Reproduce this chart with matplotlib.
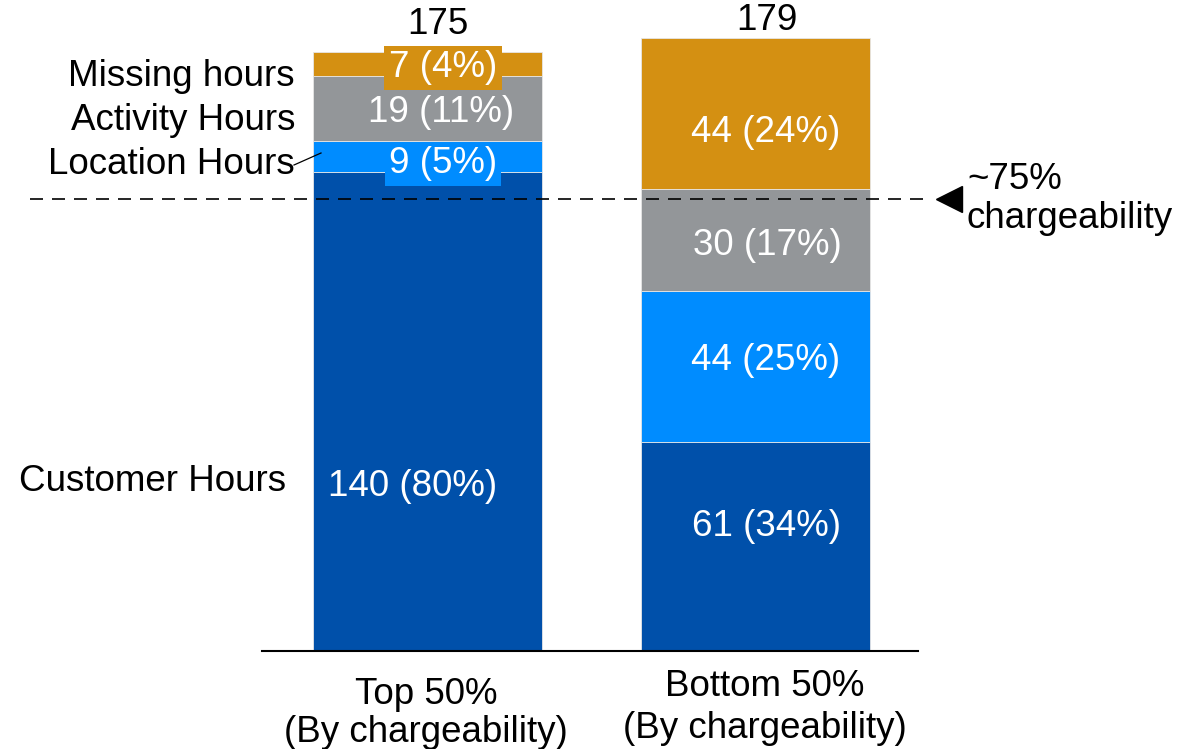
import matplotlib
matplotlib.use('Agg')
import matplotlib.pyplot as plt
import numpy as np

plt.rcParams['font.family'] = ['Liberation Sans', 'DejaVu Sans']

# ---------------- data ----------------
categories_line1 = ['Top 50%', 'Bottom 50%']
categories_line2 = ['(By chargeability)', '(By chargeability)']
series_names = ['Customer Hours', 'Location Hours', 'Activity Hours', 'Missing hours']
customer = [140, 61]
location = [9, 44]
activity = [19, 30]
missing = [7, 44]
customer_pct = [80, 34]
location_pct = [5, 25]
activity_pct = [11, 17]
missing_pct = [4, 24]
totals = [175, 179]
chargeability_level = 132
chargeability_text = ['~75%', 'chargeability']

colors = ['#0050AA', '#008CFF', '#939699', '#D49012']

# ---------------- layout ----------------
W, H = 1181, 749
fig = plt.figure(figsize=(W / 100, H / 100), dpi=100)
ax = fig.add_axes([0, 0, 1, 1])

PXU_X, CX0 = 327.5, 427.5
PXU_Y, BASE = 3.424, 651
TSHIFT = 3  # text vertical nudge in px


def dx(px):
    return (px - CX0) / PXU_X


def dy(py):
    return (BASE - py) / PXU_Y


def ty(py):
    return dy(py + TSHIFT)


ax.set_xlim(dx(0), dx(W))
ax.set_ylim(dy(H), dy(0))
ax.axis('off')

x = np.arange(2)
width = 229 / PXU_X
FS = 26.5

series = [customer, location, activity, missing]
pcts = [customer_pct, location_pct, activity_pct, missing_pct]
bottom = np.zeros(2)
for vals, col in zip(series, colors):
    ax.bar(x, vals, width, bottom=bottom, color=col, edgecolor='#e6e6e6',
           linewidth=0.6, zorder=2)
    bottom = bottom + np.array(vals)

# segment labels: (series index, bar index, px_x, px_y, boxed)
label_pos = [
    (0, 0, 413, 483, False),
    (1, 0, 443, 161, True),
    (2, 0, 441, 110, False),
    (3, 0, 443, 65, True),
    (0, 1, 766, 523, False),
    (1, 1, 766, 358, False),
    (2, 1, 767, 243, False),
    (3, 1, 766, 130, False),
]
for si, bi, px, py, boxed in label_pos:
    txt = f"{series[si][bi]} ({pcts[si][bi]}%)"
    kw = {}
    if boxed:
        kw['bbox'] = dict(boxstyle='square,pad=0.12', facecolor=colors[si],
                          edgecolor='none')
    ax.text(dx(px), ty(py), txt, ha='center', va='center', color='white',
            fontsize=FS, zorder=4, **kw)

# totals
for bi, (px, py) in enumerate([(438, 22), (767, 18)]):
    ax.text(dx(px), ty(py), str(totals[bi]), ha='center', va='center',
            fontsize=FS, color='black')

# series names on the left
name_pos = [(286, 479), (295, 162), (295, 118), (295, 73)]
for name, (px, py) in zip(series_names, name_pos):
    ax.text(dx(px), ty(py), name, ha='right', va='center', fontsize=FS,
            color='black')
ax.plot([dx(294), dx(321)], [dy(165), dy(153)], color='black', lw=0.9,
        zorder=5)

# baseline
ax.plot([dx(262), dx(918)], [0, 0], color='black', lw=1.5, zorder=3)

# chargeability dashed line
ax.plot([dx(30), dx(930)], [chargeability_level] * 2, color='black', lw=1.2,
        ls=(0, (7.8, 5.4)), zorder=5)
ax.plot([dx(949)], [chargeability_level], marker='<', markersize=19,
        color='black', zorder=5)
ax.text(dx(967), ty(177), chargeability_text[0], ha='left', va='center',
        fontsize=FS)
ax.text(dx(967), ty(216), chargeability_text[1], ha='left', va='center',
        fontsize=FS)

# category labels
for bi, (cx, y1, y2) in enumerate([(426, 692, 729), (765, 684, 726)]):
    ax.text(dx(cx), ty(y1), categories_line1[bi], ha='center', va='center',
            fontsize=FS)
    ax.text(dx(cx), ty(y2), categories_line2[bi], ha='center', va='center',
            fontsize=FS)

fig.savefig('out.png', dpi=100)
